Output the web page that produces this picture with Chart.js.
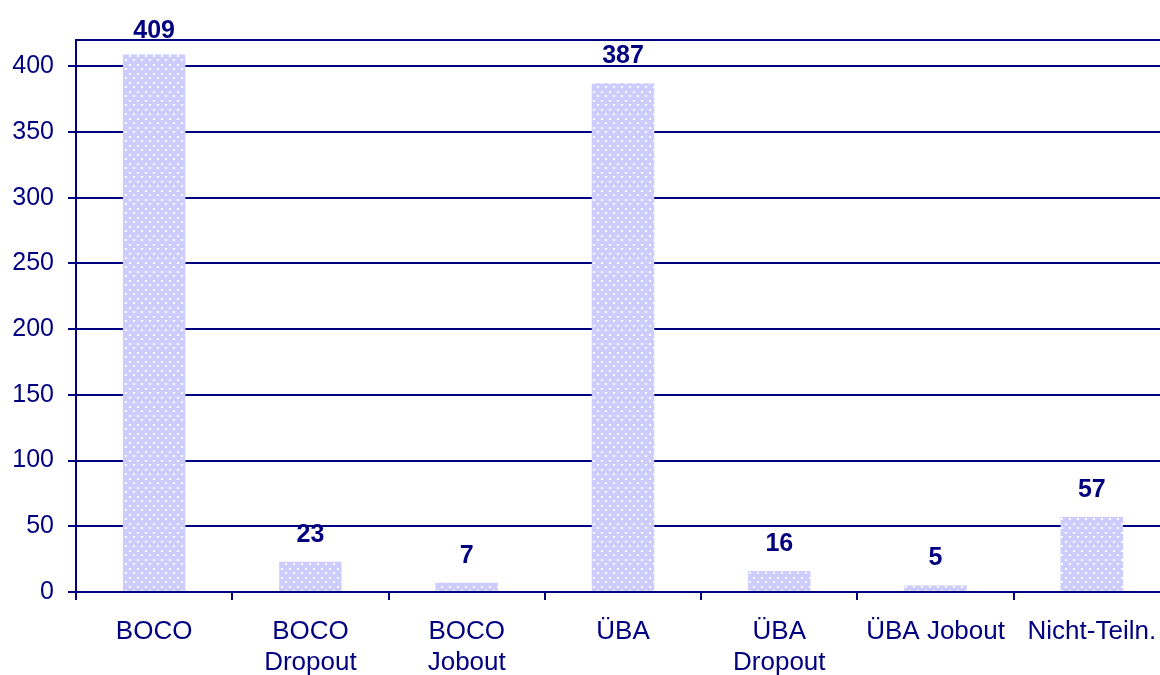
<!DOCTYPE html>
<html>
<head>
<meta charset="utf-8">
<script src="https://cdn.jsdelivr.net/npm/chart.js@4"></script>
<style>
html,body{margin:0;padding:0;background:#fff;overflow:hidden;width:1160px;height:675px;}
#wrap{position:relative;width:1174px;height:675px;}
</style>
</head>
<body>
<div id="wrap"><canvas id="c" width="1174" height="675"></canvas></div>
<script>
const categories = [["BOCO"], ["BOCO", "Dropout"], ["BOCO", "Jobout"], ["ÜBA"], ["ÜBA", "Dropout"], ["ÜBA Jobout"], ["Nicht-Teiln."]];
const values = [409, 23, 7, 387, 16, 5, 57];
const yTicks = [0, 50, 100, 150, 200, 250, 300, 350, 400];

const NAVY = '#000080';
const FONT = '"Liberation Sans", Arial, sans-serif';

function makePattern() {
  const p = document.createElement('canvas');
  p.width = 8; p.height = 9;
  const g = p.getContext('2d');
  g.fillStyle = '#CCCCFF';
  g.fillRect(0, 0, 8, 9);
  g.fillStyle = 'rgba(255,255,255,0.95)';
  g.fillRect(1, 1, 2, 2);
  g.fillRect(5, 5, 2, 2);
  return document.getElementById('c').getContext('2d').createPattern(p, 'repeat');
}

const topBorder = {
  id: 'topBorder',
  afterDraw(chart) {
    const {ctx, chartArea} = chart;
    ctx.save();
    ctx.strokeStyle = NAVY;
    ctx.lineWidth = 2;
    ctx.beginPath();
    ctx.moveTo(chartArea.left - 1, chartArea.top);
    ctx.lineTo(chartArea.right, chartArea.top);
    ctx.stroke();
    ctx.restore();
  }
};

const valueLabels = {
  id: 'valueLabels',
  afterDatasetsDraw(chart) {
    const {ctx} = chart;
    const meta = chart.getDatasetMeta(0);
    ctx.save();
    ctx.fillStyle = NAVY;
    ctx.font = 'bold 25px ' + FONT;
    ctx.textAlign = 'center';
    ctx.textBaseline = 'alphabetic';
    meta.data.forEach((bar, i) => {
      let y = bar.y - 20;
      if (y < 38) y = 38;
      ctx.fillText(String(values[i]), bar.x, y);
    });
    ctx.restore();
  }
};

new Chart(document.getElementById('c'), {
  type: 'bar',
  data: {
    labels: categories,
    datasets: [{
      data: values,
      backgroundColor: makePattern(),
      borderWidth: 0,
      barPercentage: 0.4,
      categoryPercentage: 1.0
    }]
  },
  options: {
    responsive: false,
    animation: false,
    devicePixelRatio: 1,
    layout: {padding: {top: 40, right: 4, left: 0, bottom: 0}},
    plugins: {legend: {display: false}, tooltip: {enabled: false}},
    scales: {
      x: {
        offset: true,
        grid: {display: true, offset: true, drawOnChartArea: false, color: NAVY, lineWidth: 2, tickLength: 8},
        border: {display: true, color: NAVY, width: 2},
        ticks: {color: NAVY, font: {family: FONT, size: 26, lineHeight: 1.2}, padding: 16, maxRotation: 0, autoSkip: false},
        afterFit(scale) { scale.height = 83; }
      },
      y: {
        min: 0,
        max: 420,
        afterBuildTicks(scale) { scale.ticks = yTicks.map(v => ({value: v})); },
        grid: {color: NAVY, lineWidth: 2, tickLength: 8},
        border: {display: true, color: NAVY, width: 2},
        ticks: {color: NAVY, font: {family: FONT, size: 25}, padding: 14},
        afterFit(scale) { scale.width = 76; }
      }
    }
  },
  plugins: [topBorder, valueLabels]
});
</script>
</body>
</html>
